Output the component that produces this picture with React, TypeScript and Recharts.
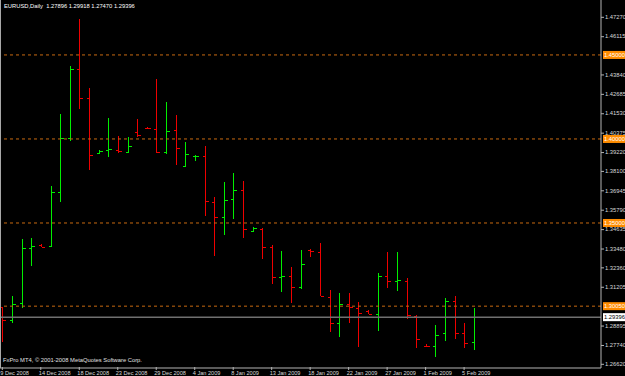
import React from 'react';
import { ComposedChart, Bar, XAxis, YAxis, ReferenceLine } from 'recharts';

const barDates = [
  '9 Dec 2008', '10 Dec 2008', '11 Dec 2008', '12 Dec 2008', '14 Dec 2008', '15 Dec 2008', '16 Dec 2008',
  '17 Dec 2008', '18 Dec 2008', '19 Dec 2008', '21 Dec 2008', '22 Dec 2008', '23 Dec 2008', '24 Dec 2008',
  '26 Dec 2008', '28 Dec 2008', '29 Dec 2008', '30 Dec 2008', '31 Dec 2008', '2 Jan 2009', '4 Jan 2009',
  '5 Jan 2009', '6 Jan 2009', '7 Jan 2009', '8 Jan 2009', '9 Jan 2009', '11 Jan 2009', '12 Jan 2009',
  '13 Jan 2009', '14 Jan 2009', '15 Jan 2009', '16 Jan 2009', '18 Jan 2009', '19 Jan 2009', '20 Jan 2009',
  '21 Jan 2009', '22 Jan 2009', '23 Jan 2009', '25 Jan 2009', '26 Jan 2009', '27 Jan 2009', '28 Jan 2009',
  '29 Jan 2009', '30 Jan 2009', '1 Feb 2009', '2 Feb 2009', '3 Feb 2009', '4 Feb 2009', '5 Feb 2009',
  '6 Feb 2009',
];

const opens = [
  1.2998, 1.2925, 1.3024, 1.3351, 1.3368, 1.3363, 1.3685, 1.4006, 1.4416, 1.4244,
  1.3917, 1.3935, 1.3935, 1.3923, 1.4042, 1.4068, 1.4059, 1.3923, 1.4053, 1.3839,
  1.3899, 1.3899, 1.3627, 1.3534, 1.3641, 1.3695, 1.3453, 1.3466, 1.3356, 1.3179,
  1.3187, 1.3117, 1.3338, 1.3329, 1.3062, 1.2903, 1.3018, 1.2996, 1.2978, 1.2959,
  1.3183, 1.3157, 1.3157, 1.2947, 1.2770, 1.2768, 1.2844, 1.3038, 1.2844, 1.27896,
];
const highs = [
  1.3000, 1.3066, 1.3405, 1.3411, 1.3372, 1.3720, 1.4149, 1.4434, 1.4714, 1.4303,
  1.3932, 1.4125, 1.4018, 1.4012, 1.4119, 1.4072, 1.4357, 1.4220, 1.4143, 1.3982,
  1.3902, 1.3958, 1.3655, 1.3744, 1.3796, 1.3748, 1.3478, 1.3468, 1.3371, 1.3334,
  1.3240, 1.3340, 1.3345, 1.3381, 1.3102, 1.3082, 1.3082, 1.3030, 1.2983, 1.3203,
  1.3328, 1.3328, 1.3173, 1.2953, 1.2780, 1.2893, 1.3052, 1.3066, 1.2903, 1.29918,
];
const lows = [
  1.2792, 1.2905, 1.2994, 1.3244, 1.3356, 1.3357, 1.3625, 1.3988, 1.4178, 1.3816,
  1.3914, 1.3893, 1.3917, 1.3917, 1.4012, 1.4060, 1.3917, 1.3911, 1.3845, 1.3833,
  1.3871, 1.3544, 1.3306, 1.3431, 1.3526, 1.3409, 1.3450, 1.3284, 1.3137, 1.3088,
  1.3022, 1.3106, 1.3300, 1.3066, 1.2853, 1.2820, 1.2903, 1.2760, 1.2957, 1.2856,
  1.3115, 1.3097, 1.2929, 1.2758, 1.2764, 1.2705, 1.2796, 1.2808, 1.2758, 1.27470,
];
const closes = [
  1.2925, 1.3018, 1.3351, 1.3363, 1.3360, 1.3685, 1.4006, 1.4416, 1.4244, 1.3905,
  1.3929, 1.3941, 1.3929, 1.3958, 1.4024, 1.4064, 1.3923, 1.4047, 1.3946, 1.3911,
  1.3901, 1.3629, 1.3534, 1.3637, 1.3695, 1.3464, 1.3470, 1.3357, 1.3181, 1.3187,
  1.3117, 1.3258, 1.3334, 1.3068, 1.2903, 1.3018, 1.2998, 1.2963, 1.2959, 1.3183,
  1.3157, 1.3158, 1.2953, 1.2810, 1.2766, 1.2834, 1.3036, 1.2848, 1.2788, 1.29396,
];

const priceTicks = [
  1.4727, 1.46115, 1.4384, 1.42685, 1.4153, 1.40375, 1.3922, 1.381, 1.36945, 1.3579,
  1.34635, 1.3348, 1.3236, 1.31205, 1.28895, 1.2774, 1.2662,
];
const levelLines = [1.45, 1.4, 1.35, 1.3005];
const lastPrice = 1.29396;
const dateTicks = [0, 4, 8, 12, 16, 20, 24, 28, 32, 36, 40, 44, 48];

const GREEN = '#00ee00';
const RED = '#ee0000';
const LEVEL = '#c86a10';
const AXIS = '#b4b4b4';
const FONT = '"Liberation Sans", Arial, sans-serif';

const data = opens.map((o, i) => ({
  i,
  range: [lows[i], highs[i]],
  open: o,
  high: highs[i],
  low: lows[i],
  close: closes[i],
}));

function OhlcBar(props: any) {
  const { x, y, width, height, payload } = props;
  const top = Math.min(y, y + height);
  const h = Math.abs(height);
  const cx = Math.round(x + width / 2) + 0.5;
  const span = payload.high - payload.low;
  const toY = (v: number) => Math.round(top + ((payload.high - v) / span) * h) + 0.5;
  const color = payload.close >= payload.open ? GREEN : RED;
  return (
    <g stroke={color} strokeWidth={1} shapeRendering="crispEdges">
      <line x1={cx} x2={cx} y1={top} y2={top + Math.max(h, 1)} />
      <line x1={cx - 3} x2={cx} y1={toY(payload.open)} y2={toY(payload.open)} />
      <line x1={cx} x2={cx + 3.5} y1={toY(payload.close)} y2={toY(payload.close)} />
    </g>
  );
}

function PriceTick(props: any) {
  const { x, y, payload } = props;
  const v = payload.value as number;
  if (levelLines.includes(v)) {
    return (
      <g>
        <rect x={x + 2} y={y - 4} width={24} height={8} fill="#ff8c00" />
        <text x={x + 3} y={y + 2.2} fill="#ffffff" fontSize={5.8} fontFamily={FONT}>
          {v.toFixed(5)}
        </text>
      </g>
    );
  }
  if (v === lastPrice) {
    return (
      <g>
        <rect x={x + 2} y={y - 4} width={24} height={8} fill="#ffffff" />
        <text x={x + 3} y={y + 2.2} fill="#000000" fontSize={5.8} fontFamily={FONT}>
          {v.toFixed(5)}
        </text>
      </g>
    );
  }
  return (
    <g>
      <line x1={x} x2={x + 3} y1={y + 0.5} y2={y + 0.5} stroke={AXIS} />
      <text x={x + 4} y={y + 2.2} fill="#d8d8d8" fontSize={5.8} fontFamily={FONT}>
        {v.toFixed(5)}
      </text>
    </g>
  );
}

function DateTick(props: any) {
  const { x, y, payload } = props;
  return (
    <g>
      <line x1={x} x2={x} y1={y - 1} y2={y + 2} stroke={AXIS} />
      <text x={x - 2} y={y + 6.5} fill="#d8d8d8" fontSize={5.6} fontFamily={FONT}>
        {barDates[payload.value]}
      </text>
    </g>
  );
}

export default function App() {
  return (
    <div style={{ position: 'relative', width: 625, height: 376, background: '#000', overflow: 'hidden' }}>
      <style>{'body{margin:0;background:#000}'}</style>
      <ComposedChart
        width={625}
        height={376}
        data={data}
        margin={{ top: 0, right: 0, bottom: 0, left: 0 }}
        style={{ background: '#000' }}
      >
        <XAxis
          type="number"
          dataKey="i"
          domain={[-0.24, 62.23]}
          allowDataOverflow
          ticks={dateTicks}
          interval={0}
          height={8}
          axisLine={{ stroke: AXIS }}
          tickLine={false}
          tickSize={0}
          tickMargin={0}
          tick={<DateTick />}
        />
        <YAxis
          orientation="right"
          type="number"
          domain={[1.2637, 1.4827]}
          allowDataOverflow
          ticks={[...priceTicks, ...levelLines, lastPrice]}
          interval={0}
          width={24}
          axisLine={{ stroke: AXIS }}
          tickLine={false}
          tickSize={0}
          tickMargin={0}
          tick={<PriceTick />}
        />
        {levelLines.map((v) => (
          <ReferenceLine key={v} y={v} stroke={LEVEL} strokeDasharray="3 3" />
        ))}
        <ReferenceLine y={lastPrice} stroke="#707070" strokeWidth={1.5} />
        <Bar dataKey="range" barSize={6} shape={<OhlcBar />} isAnimationActive={false} />
      </ComposedChart>
      <div
        style={{ position: 'absolute', left: 0, top: 0, width: 1, height: 368, background: '#a8a8a8' }}
      />
      <div
        style={{
          position: 'absolute', left: 4, top: 2, color: '#fff', fontFamily: FONT, fontSize: 5.8,
          whiteSpace: 'pre', lineHeight: '8px',
        }}
      >
        {'EURUSD,Daily  1.27896 1.29918 1.27470 1.29396'}
      </div>
      <div
        style={{
          position: 'absolute', left: 3, top: 356, color: '#e0e0e0', fontFamily: FONT, fontSize: 5.8,
          whiteSpace: 'pre', lineHeight: '8px',
        }}
      >
        {'FxPro MT4, © 2001-2008 MetaQuotes Software Corp.'}
      </div>
    </div>
  );
}
